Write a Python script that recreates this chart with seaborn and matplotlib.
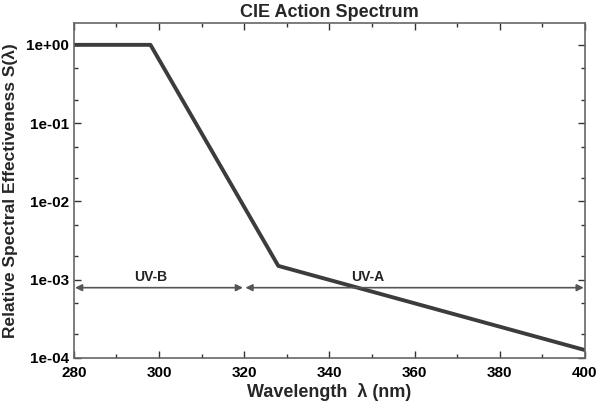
import matplotlib
matplotlib.use('Agg')
import matplotlib.pyplot as plt
import matplotlib.ticker as mticker
import seaborn as sns
import pandas as pd

# 读取自图的数据
wavelength = [280, 298, 328, 400]
effectiveness = [1.0, 1.0, 0.0015, 0.000126]
band_names = ['UV-B', 'UV-A']
band_start = [280, 320]
band_end = [320, 400]
band_label_x = [298, 349]
arrow_level = 0.00079

sns.set_theme(style='ticks')
plt.rcParams['font.family'] = ['Liberation Sans', 'DejaVu Sans']
plt.rcParams['font.weight'] = 'bold'

df = pd.DataFrame({'wl': wavelength, 's': effectiveness})

fig = plt.figure(figsize=(6, 4.04), dpi=100)
ax = fig.add_axes([0.123, 0.114, 0.852, 0.829])

sns.lineplot(data=df, x='wl', y='s', ax=ax, color='#3c3c3c', linewidth=2.8)
ax.set_yscale('log')
ax.set_xlim(280, 400)
ax.set_ylim(1e-4, 1.9)

# 波段箭头
for name, x0, x1, lx in zip(band_names, band_start, band_end, band_label_x):
    ax.annotate('', xy=(x0 + 0.3, arrow_level), xytext=(x1 - 0.3, arrow_level),
                arrowprops=dict(arrowstyle='<|-|>', color='#555555', lw=1.2,
                                mutation_scale=10, shrinkA=0, shrinkB=0))
    ax.text(lx, arrow_level * 1.12, name, ha='center', va='bottom',
            fontsize=10, fontweight='bold', color='#222222')

ax.set_xticks(range(280, 401, 20))
ax.xaxis.set_minor_locator(mticker.MultipleLocator(10))
ax.set_yticks([1e-4, 1e-3, 1e-2, 1e-1, 1e0])
ax.set_yticklabels(['1e-04', '1e-03', '1e-02', '1e-01', '1e+00'])
ax.yaxis.set_minor_locator(mticker.LogLocator(base=10, subs=[2, 5]))
ax.yaxis.set_minor_formatter(mticker.NullFormatter())
ax.tick_params(which='both', direction='in', top=True, right=True, colors='#333333',
               labelcolor='black', labelsize=11)
ax.tick_params(which='major', length=5, width=1)
ax.tick_params(which='minor', length=3, width=1)
ax.tick_params(axis='x', pad=6)
for sp in ax.spines.values():
    sp.set_color('#666666')
    sp.set_linewidth(1.2)

ax.set_title('CIE Action Spectrum', fontsize=13, fontweight='bold', pad=4)
ax.set_xlabel('Wavelength  λ (nm)', fontsize=13, fontweight='bold', labelpad=2)
ax.set_ylabel('Relative Spectral Effectiveness S(λ)', fontsize=12.5, fontweight='bold', labelpad=6)

fig.savefig('out.png', dpi=100)
